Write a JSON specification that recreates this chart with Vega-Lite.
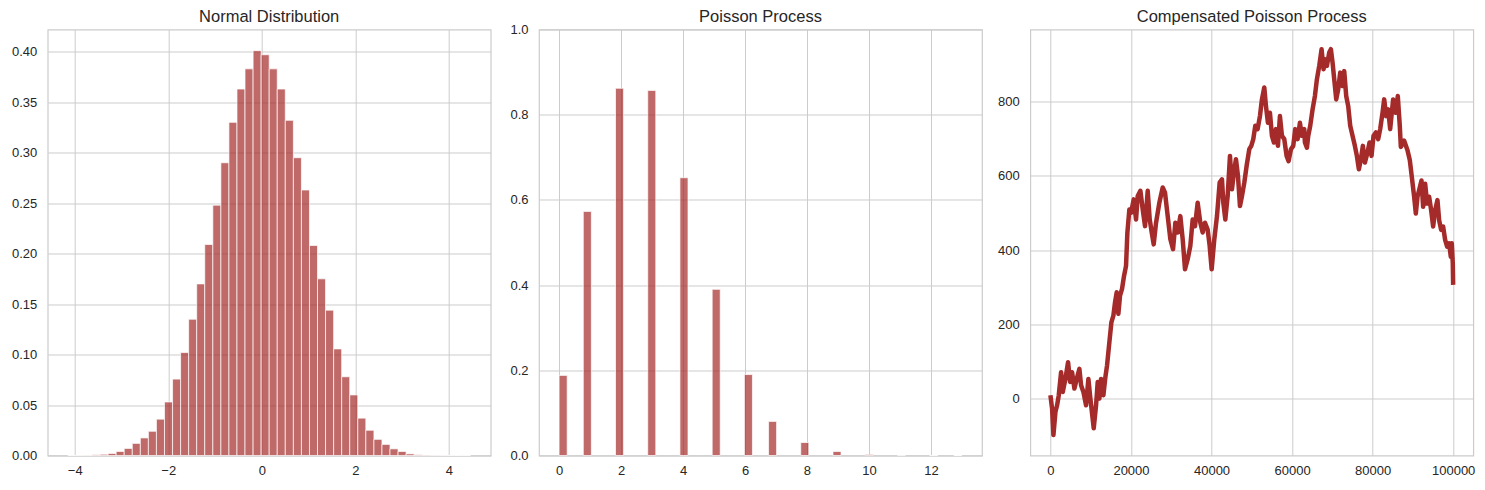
{
  "$schema": "https://vega.github.io/schema/vega-lite/v6.json",
  "padding": {"left": 10.7, "top": 7.5, "right": 5, "bottom": 5},
  "background": "white",
  "bounds": "flush",
  "spacing": 48.3,
  "config": {
    "font": "Liberation Sans",
    "view": {"stroke": "#cccccc", "strokeWidth": 1.2},
    "axis": {
      "grid": true, "gridColor": "#cccccc", "gridWidth": 1,
      "domain": false, "ticks": false, "tickSize": 0,
      "labelFont": "Liberation Sans", "labelFontSize": 13, "labelColor": "#262626",
      "title": null
    },
    "axisX": {"labelPadding": 9},
    "axisY": {"labelPadding": 11},
    "title": {"font": "Liberation Sans", "fontSize": 16.5, "fontWeight": "normal", "color": "#262626", "anchor": "middle", "baseline": "alphabetic", "offset": 4.5}
  },
  "datasets": {
    "normal": [
      {"lo": -4.147, "hi": -3.975, "density": 0.0001},
      {"lo": -3.975, "hi": -3.803, "density": 0.0002},
      {"lo": -3.803, "hi": -3.630, "density": 0.0003},
      {"lo": -3.630, "hi": -3.458, "density": 0.0007},
      {"lo": -3.458, "hi": -3.286, "density": 0.0012},
      {"lo": -3.286, "hi": -3.114, "density": 0.002},
      {"lo": -3.114, "hi": -2.942, "density": 0.004},
      {"lo": -2.942, "hi": -2.769, "density": 0.007},
      {"lo": -2.769, "hi": -2.597, "density": 0.012},
      {"lo": -2.597, "hi": -2.425, "density": 0.0174},
      {"lo": -2.425, "hi": -2.253, "density": 0.024},
      {"lo": -2.253, "hi": -2.081, "density": 0.036},
      {"lo": -2.081, "hi": -1.908, "density": 0.053},
      {"lo": -1.908, "hi": -1.736, "density": 0.0757},
      {"lo": -1.736, "hi": -1.564, "density": 0.102},
      {"lo": -1.564, "hi": -1.392, "density": 0.135},
      {"lo": -1.392, "hi": -1.220, "density": 0.170},
      {"lo": -1.220, "hi": -1.047, "density": 0.209},
      {"lo": -1.047, "hi": -0.875, "density": 0.248},
      {"lo": -0.875, "hi": -0.703, "density": 0.290},
      {"lo": -0.703, "hi": -0.531, "density": 0.330},
      {"lo": -0.531, "hi": -0.359, "density": 0.363},
      {"lo": -0.359, "hi": -0.186, "density": 0.383},
      {"lo": -0.186, "hi": -0.014, "density": 0.401},
      {"lo": -0.014, "hi": 0.158, "density": 0.397},
      {"lo": 0.158, "hi": 0.330, "density": 0.383},
      {"lo": 0.330, "hi": 0.502, "density": 0.363},
      {"lo": 0.502, "hi": 0.675, "density": 0.332},
      {"lo": 0.675, "hi": 0.847, "density": 0.295},
      {"lo": 0.847, "hi": 1.019, "density": 0.263},
      {"lo": 1.019, "hi": 1.191, "density": 0.208},
      {"lo": 1.191, "hi": 1.363, "density": 0.175},
      {"lo": 1.363, "hi": 1.536, "density": 0.144},
      {"lo": 1.536, "hi": 1.708, "density": 0.1056},
      {"lo": 1.708, "hi": 1.880, "density": 0.078},
      {"lo": 1.880, "hi": 2.052, "density": 0.060},
      {"lo": 2.052, "hi": 2.224, "density": 0.037},
      {"lo": 2.224, "hi": 2.397, "density": 0.025},
      {"lo": 2.397, "hi": 2.569, "density": 0.016},
      {"lo": 2.569, "hi": 2.741, "density": 0.011},
      {"lo": 2.741, "hi": 2.913, "density": 0.0066},
      {"lo": 2.913, "hi": 3.085, "density": 0.004},
      {"lo": 3.085, "hi": 3.257, "density": 0.0016},
      {"lo": 3.257, "hi": 3.430, "density": 0.0008},
      {"lo": 3.430, "hi": 3.602, "density": 0.0005},
      {"lo": 3.602, "hi": 3.774, "density": 0.0003},
      {"lo": 3.774, "hi": 3.946, "density": 0.0002},
      {"lo": 3.946, "hi": 4.118, "density": 0.0001},
      {"lo": 4.118, "hi": 4.291, "density": 0.00005},
      {"lo": 4.291, "hi": 4.463, "density": 0.00005}
    ],
    "poisson": [
      {"lo": 0.00, "hi": 0.26, "density": 0.188},
      {"lo": 0.78, "hi": 1.04, "density": 0.573},
      {"lo": 1.82, "hi": 2.08, "density": 0.862},
      {"lo": 2.86, "hi": 3.12, "density": 0.857},
      {"lo": 3.90, "hi": 4.16, "density": 0.652},
      {"lo": 4.94, "hi": 5.20, "density": 0.390},
      {"lo": 5.98, "hi": 6.24, "density": 0.190},
      {"lo": 6.76, "hi": 7.02, "density": 0.080},
      {"lo": 7.80, "hi": 8.06, "density": 0.0305},
      {"lo": 8.84, "hi": 9.10, "density": 0.0094},
      {"lo": 9.88, "hi": 10.14, "density": 0.0025},
      {"lo": 10.92, "hi": 11.18, "density": 0.0007},
      {"lo": 11.96, "hi": 12.22, "density": 0.0002},
      {"lo": 12.74, "hi": 13.00, "density": 0.00005}
    ],
    "walk": [
      {"t": 0, "v": 10}, {"t": 414, "v": -26}, {"t": 744, "v": -97}, {"t": 1241, "v": -35},
      {"t": 1654, "v": -17}, {"t": 2068, "v": 10}, {"t": 2647, "v": 72}, {"t": 3060, "v": 19},
      {"t": 3722, "v": 54}, {"t": 4383, "v": 99}, {"t": 4879, "v": 46}, {"t": 5376, "v": 72},
      {"t": 5954, "v": 28}, {"t": 6533, "v": 54}, {"t": 7195, "v": 81}, {"t": 7608, "v": 37},
      {"t": 8187, "v": 19}, {"t": 8849, "v": -17}, {"t": 9428, "v": 54}, {"t": 9924, "v": 1},
      {"t": 10751, "v": -79}, {"t": 11330, "v": -17}, {"t": 11743, "v": 46}, {"t": 12157, "v": 1},
      {"t": 12570, "v": 54}, {"t": 13149, "v": 10}, {"t": 13646, "v": 59}, {"t": 14059, "v": 90},
      {"t": 14638, "v": 153}, {"t": 15134, "v": 206}, {"t": 15630, "v": 224}, {"t": 16044, "v": 260},
      {"t": 16457, "v": 287}, {"t": 16871, "v": 229}, {"t": 17284, "v": 278}, {"t": 17781, "v": 296},
      {"t": 18277, "v": 331}, {"t": 18773, "v": 358}, {"t": 19104, "v": 447}, {"t": 19600, "v": 510},
      {"t": 20022, "v": 501}, {"t": 20683, "v": 537}, {"t": 21262, "v": 483}, {"t": 21676, "v": 546},
      {"t": 22338, "v": 560}, {"t": 22916, "v": 510}, {"t": 23495, "v": 465}, {"t": 24157, "v": 560},
      {"t": 24653, "v": 483}, {"t": 25149, "v": 448}, {"t": 25645, "v": 416}, {"t": 26224, "v": 474},
      {"t": 27051, "v": 528}, {"t": 27878, "v": 569}, {"t": 28457, "v": 555}, {"t": 29119, "v": 492},
      {"t": 29780, "v": 430}, {"t": 30442, "v": 403}, {"t": 31021, "v": 474}, {"t": 31600, "v": 448},
      {"t": 32261, "v": 492}, {"t": 32840, "v": 430}, {"t": 33419, "v": 349}, {"t": 34080, "v": 376},
      {"t": 34742, "v": 412}, {"t": 35321, "v": 483}, {"t": 35900, "v": 465}, {"t": 36561, "v": 528},
      {"t": 37223, "v": 474}, {"t": 37802, "v": 448}, {"t": 38381, "v": 474}, {"t": 39042, "v": 456},
      {"t": 39538, "v": 412}, {"t": 40035, "v": 349}, {"t": 40696, "v": 430}, {"t": 41358, "v": 492},
      {"t": 42020, "v": 582}, {"t": 42599, "v": 591}, {"t": 42929, "v": 528}, {"t": 43426, "v": 483},
      {"t": 44005, "v": 546}, {"t": 44583, "v": 654}, {"t": 45080, "v": 564}, {"t": 45659, "v": 618},
      {"t": 46072, "v": 645}, {"t": 46568, "v": 600}, {"t": 47064, "v": 519}, {"t": 47561, "v": 546},
      {"t": 48140, "v": 582}, {"t": 48718, "v": 627}, {"t": 49380, "v": 672}, {"t": 49876, "v": 681},
      {"t": 50372, "v": 699}, {"t": 50869, "v": 735}, {"t": 51448, "v": 726}, {"t": 52026, "v": 761},
      {"t": 52523, "v": 806}, {"t": 53102, "v": 838}, {"t": 53515, "v": 788}, {"t": 54011, "v": 743},
      {"t": 54507, "v": 770}, {"t": 55004, "v": 708}, {"t": 55500, "v": 690}, {"t": 55996, "v": 726},
      {"t": 56492, "v": 681}, {"t": 56988, "v": 761}, {"t": 57485, "v": 708}, {"t": 58064, "v": 699},
      {"t": 58642, "v": 654}, {"t": 59138, "v": 640}, {"t": 59717, "v": 672}, {"t": 60296, "v": 681},
      {"t": 60792, "v": 726}, {"t": 61371, "v": 699}, {"t": 61950, "v": 743}, {"t": 62446, "v": 708},
      {"t": 63025, "v": 726}, {"t": 63191, "v": 690}, {"t": 63688, "v": 676}, {"t": 64018, "v": 708},
      {"t": 64515, "v": 735}, {"t": 65094, "v": 779}, {"t": 65672, "v": 815}, {"t": 66169, "v": 860},
      {"t": 66748, "v": 896}, {"t": 67326, "v": 941}, {"t": 67823, "v": 887}, {"t": 68153, "v": 914},
      {"t": 68650, "v": 896}, {"t": 69229, "v": 932}, {"t": 69642, "v": 941}, {"t": 70056, "v": 905},
      {"t": 70469, "v": 860}, {"t": 70965, "v": 806}, {"t": 71461, "v": 833}, {"t": 71958, "v": 878},
      {"t": 72537, "v": 842}, {"t": 72950, "v": 882}, {"t": 73446, "v": 815}, {"t": 73942, "v": 788},
      {"t": 74439, "v": 735}, {"t": 75018, "v": 708}, {"t": 75596, "v": 681}, {"t": 76093, "v": 654},
      {"t": 76589, "v": 618}, {"t": 77085, "v": 645}, {"t": 77581, "v": 681}, {"t": 78077, "v": 636},
      {"t": 78739, "v": 663}, {"t": 79235, "v": 690}, {"t": 79731, "v": 654}, {"t": 80228, "v": 708},
      {"t": 80807, "v": 717}, {"t": 81385, "v": 699}, {"t": 81882, "v": 726}, {"t": 82461, "v": 770},
      {"t": 82874, "v": 806}, {"t": 83370, "v": 761}, {"t": 83867, "v": 779}, {"t": 84363, "v": 726},
      {"t": 84519, "v": 743}, {"t": 85098, "v": 806}, {"t": 85760, "v": 770}, {"t": 86256, "v": 815},
      {"t": 86752, "v": 734}, {"t": 87009, "v": 678}, {"t": 87836, "v": 695}, {"t": 88663, "v": 669},
      {"t": 89241, "v": 642}, {"t": 89737, "v": 597}, {"t": 90317, "v": 544}, {"t": 90730, "v": 499},
      {"t": 91144, "v": 544}, {"t": 91557, "v": 562}, {"t": 92136, "v": 588}, {"t": 92549, "v": 517},
      {"t": 93046, "v": 579}, {"t": 93542, "v": 526}, {"t": 94038, "v": 544}, {"t": 94534, "v": 508},
      {"t": 95030, "v": 464}, {"t": 95527, "v": 508}, {"t": 96106, "v": 535}, {"t": 96519, "v": 481},
      {"t": 97015, "v": 455}, {"t": 97511, "v": 464}, {"t": 98008, "v": 428}, {"t": 98504, "v": 410},
      {"t": 99000, "v": 419}, {"t": 99413, "v": 383}, {"t": 99661, "v": 419}, {"t": 99910, "v": 365},
      {"t": 100000, "v": 307}
    ]
  },
  "hconcat": [
    {
      "width": 443, "height": 426,
      "title": "Normal Distribution",
      "data": {"name": "normal"},
      "mark": {"type": "rect", "fill": "#a52a2a", "fillOpacity": 0.7, "stroke": "white", "strokeOpacity": 0.7, "strokeWidth": 1},
      "encoding": {
        "x": {"field": "lo", "type": "quantitative", "scale": {"domain": [-4.5775, 4.8935], "nice": false, "zero": false}, "axis": {"values": [-4, -2, 0, 2, 4]}},
        "x2": {"field": "hi"},
        "y": {"field": "density", "type": "quantitative", "scale": {"domain": [0, 0.422], "nice": false}, "axis": {"values": [0, 0.05, 0.1, 0.15, 0.2, 0.25, 0.3, 0.35, 0.4], "format": ".2f"}},
        "y2": {"datum": 0}
      }
    },
    {
      "width": 443, "height": 426,
      "title": {"text": "Poisson Process", "offset": -2},
      "data": {"name": "poisson"},
      "mark": {"type": "rect", "fill": "#a52a2a", "fillOpacity": 0.7, "stroke": "white", "strokeOpacity": 0.7, "strokeWidth": 1},
      "encoding": {
        "x": {"field": "lo", "type": "quantitative", "scale": {"domain": [-0.65, 13.65], "nice": false, "zero": false}, "axis": {"values": [0, 2, 4, 6, 8, 10, 12]}},
        "x2": {"field": "hi"},
        "y": {"field": "density", "type": "quantitative", "scale": {"domain": [0, 1], "nice": false}, "axis": {"values": [0, 0.2, 0.4, 0.6, 0.8, 1.0], "format": ".1f"}},
        "y2": {"datum": 0}
      }
    },
    {
      "width": 443, "height": 426,
      "title": "Compensated Poisson Process",
      "data": {"name": "walk"},
      "mark": {"type": "line", "color": "#a52a2a", "strokeWidth": 4.5, "strokeJoin": "round"},
      "encoding": {
        "x": {"field": "t", "type": "quantitative", "scale": {"domain": [-5000, 105000], "nice": false, "zero": false}, "axis": {"values": [0, 20000, 40000, 60000, 80000, 100000], "format": "d"}},
        "y": {"field": "v", "type": "quantitative", "scale": {"domain": [-152, 994], "nice": false, "zero": false}, "axis": {"values": [0, 200, 400, 600, 800], "format": "d"}}
      }
    }
  ]
}
